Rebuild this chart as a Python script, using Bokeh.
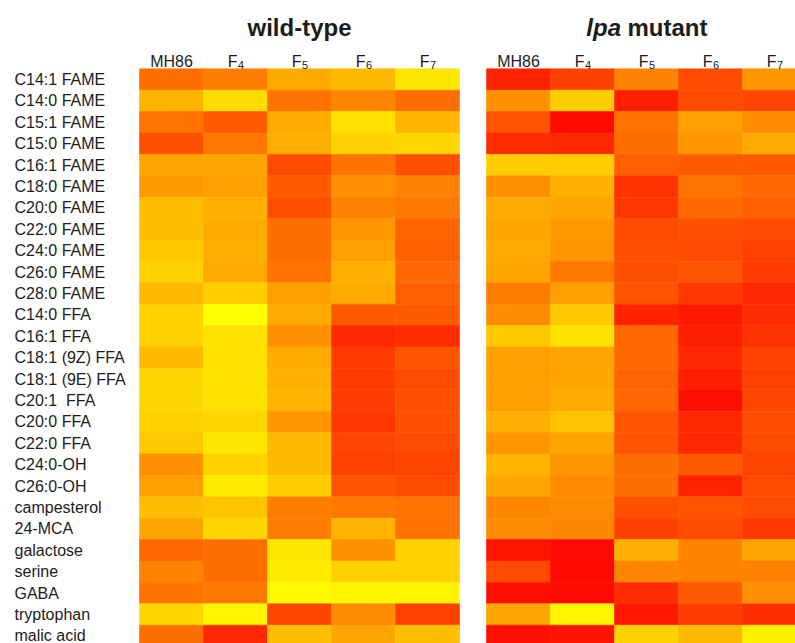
from bokeh.plotting import figure
from bokeh.models import Range1d, LinearColorMapper, ColumnDataSource
from bokeh.core.properties import value
from bokeh.transform import transform
from bokeh.layouts import row
from bokeh.embed import file_html
from bokeh.resources import INLINE

# ---------------- data ----------------
metabolites = ["C14:1 FAME", "C14:0 FAME", "C15:1 FAME", "C15:0 FAME", "C16:1 FAME",
               "C18:0 FAME", "C20:0 FAME", "C22:0 FAME", "C24:0 FAME", "C26:0 FAME",
               "C28:0 FAME", "C14:0 FFA", "C16:1 FFA", "C18:1 (9Z) FFA", "C18:1 (9E) FFA",
               "C20:1\u00a0 FFA", "C20:0 FFA", "C22:0 FFA", "C24:0-OH", "C26:0-OH",
               "campesterol", "24-MCA", "galactose", "serine", "GABA", "tryptophan",
               "malic acid"]
# column headers: base text and subscript (MH86, F4, F5, F6, F7)
gen_base = ["MH86", "F", "F", "F", "F"]
gen_sub = ["", "4", "5", "6", "7"]

# relative level (0 = red / low ... 255 = yellow / high)
wt_MH86 = [110, 180, 115, 80, 165, 155, 190, 190, 200, 210, 185, 210, 210, 185, 215, 215, 210, 200, 145, 160, 190, 165, 105, 130, 115, 215, 110]
wt_F4 = [125, 220, 90, 120, 165, 160, 175, 170, 175, 170, 205, 255, 225, 225, 225, 225, 215, 230, 210, 235, 195, 215, 110, 110, 120, 245, 40]
wt_F5 = [170, 115, 170, 175, 75, 90, 80, 110, 110, 115, 160, 170, 145, 170, 175, 180, 150, 185, 185, 205, 125, 125, 230, 235, 250, 70, 190]
wt_F6 = [185, 135, 225, 210, 115, 145, 130, 150, 160, 175, 170, 90, 40, 60, 60, 60, 55, 70, 65, 85, 120, 180, 145, 210, 245, 140, 165]
wt_F7 = [230, 110, 180, 215, 80, 130, 120, 100, 95, 105, 95, 90, 45, 85, 75, 80, 80, 75, 70, 75, 115, 115, 210, 210, 245, 65, 190]

lpa_MH86 = [35, 145, 85, 45, 205, 145, 170, 165, 170, 165, 125, 140, 200, 160, 160, 160, 175, 150, 180, 165, 135, 140, 20, 75, 15, 165, 15]
lpa_F4 = [65, 205, 10, 40, 205, 175, 165, 155, 150, 120, 160, 200, 225, 165, 165, 170, 195, 165, 150, 140, 140, 135, 10, 10, 10, 245, 20]
lpa_F5 = [130, 30, 115, 110, 95, 50, 55, 75, 80, 80, 85, 35, 105, 105, 100, 105, 85, 85, 110, 110, 80, 65, 175, 135, 45, 25, 210]
lpa_F6 = [75, 75, 160, 150, 90, 115, 105, 80, 75, 85, 55, 25, 30, 40, 30, 15, 40, 40, 90, 35, 85, 75, 130, 130, 90, 60, 185]
lpa_F7 = [150, 70, 140, 170, 90, 105, 95, 75, 65, 60, 40, 45, 50, 65, 65, 70, 75, 75, 70, 75, 75, 55, 165, 130, 145, 45, 240]

wt_cols = [wt_MH86, wt_F4, wt_F5, wt_F6, wt_F7]
lpa_cols = [lpa_MH86, lpa_F4, lpa_F5, lpa_F6, lpa_F7]

# ---------------- layout constants (pixels) ----------------
H = 643
GRID_TOP = 68.3
COL_PX = 64.0
ROW_PX = 21.4
A_W, A_GRID_LEFT = 472, 139.0
B_W, B_GRID_LEFT = 323, 14.0
FONT = value("Liberation Sans")
TXT = "#1c1c1c"

palette = ["#ff%02x00" % g for g in range(256)]
mapper = LinearColorMapper(palette=palette, low=0, high=255)

y_top = -GRID_TOP / ROW_PX
y_bottom = (H - GRID_TOP) / ROW_PX
header_y = (61.0 - GRID_TOP) / ROW_PX
sub_y = (64.5 - GRID_TOP) / ROW_PX
title_y = (27.0 - GRID_TOP) / ROW_PX


def make_source(cols):
    xs, ys, vs = [], [], []
    for ci, col in enumerate(cols):
        for ri, v in enumerate(col):
            xs.append(ci + 0.5)
            ys.append(ri + 0.5)
            vs.append(v)
    return ColumnDataSource(dict(x=xs, y=ys, v=vs))


def make_fig(width, grid_left, cols):
    p = figure(width=width, height=H, output_backend="svg", toolbar_location=None,
               x_range=Range1d(-grid_left / COL_PX, (width - grid_left) / COL_PX),
               y_range=Range1d(y_bottom, y_top),
               x_axis_location=None, y_axis_location=None,
               min_border=0, outline_line_color=None,
               background_fill_color="white", border_fill_color="white")
    p.grid.visible = False
    src = make_source(cols)
    p.rect(x="x", y="y", width=1, height=1, source=src,
           fill_color=transform("v", mapper), line_color=transform("v", mapper),
           line_width=0.6)
    # column headers
    for i, (b, s) in enumerate(zip(gen_base, gen_sub)):
        if s:
            p.text(x=[i + 0.5], y=[header_y], text=[b], x_offset=2.0,
                   text_align="right", text_baseline="middle", text_font=FONT,
                   text_font_size="16px", text_color=TXT)
            p.text(x=[i + 0.5], y=[sub_y], text=[s], x_offset=2.5,
                   text_align="left", text_baseline="middle", text_font=FONT,
                   text_font_size="11px", text_color=TXT)
        else:
            p.text(x=[i + 0.5], y=[header_y], text=[b], text_align="center",
                   text_baseline="middle", text_font=FONT, text_font_size="16px",
                   text_color=TXT)
    return p


pA = make_fig(A_W, A_GRID_LEFT, wt_cols)
pB = make_fig(B_W, B_GRID_LEFT, lpa_cols)

# row labels (left aligned, left of panel A grid)
label_x = (14 - A_GRID_LEFT) / COL_PX
lab_src = ColumnDataSource(dict(x=[label_x] * len(metabolites),
                                y=[i + 0.5 for i in range(len(metabolites))],
                                t=metabolites))
pA.text(x="x", y="y", text="t", source=lab_src, text_align="left",
        text_baseline="middle", text_font=FONT, text_font_size="16px", text_color=TXT)

# titles
pA.text(x=[2.5], y=[title_y], text=["wild-type"], text_align="center",
        text_baseline="middle", text_font=FONT, text_font_style="bold",
        text_font_size="24px", text_color=TXT)
pB.text(x=[2.5], y=[title_y], x_offset=-25.5, text=["lpa"], text_align="right",
        text_baseline="middle", text_font=FONT, text_font_style="bold italic",
        text_font_size="24px", text_color=TXT)
pB.text(x=[2.5], y=[title_y], x_offset=-19, text=["mutant"], text_align="left",
        text_baseline="middle", text_font=FONT, text_font_style="bold",
        text_font_size="24px", text_color=TXT)

layout = row(pA, pB, spacing=0)
open("out.html", "w").write(file_html(layout, INLINE))
